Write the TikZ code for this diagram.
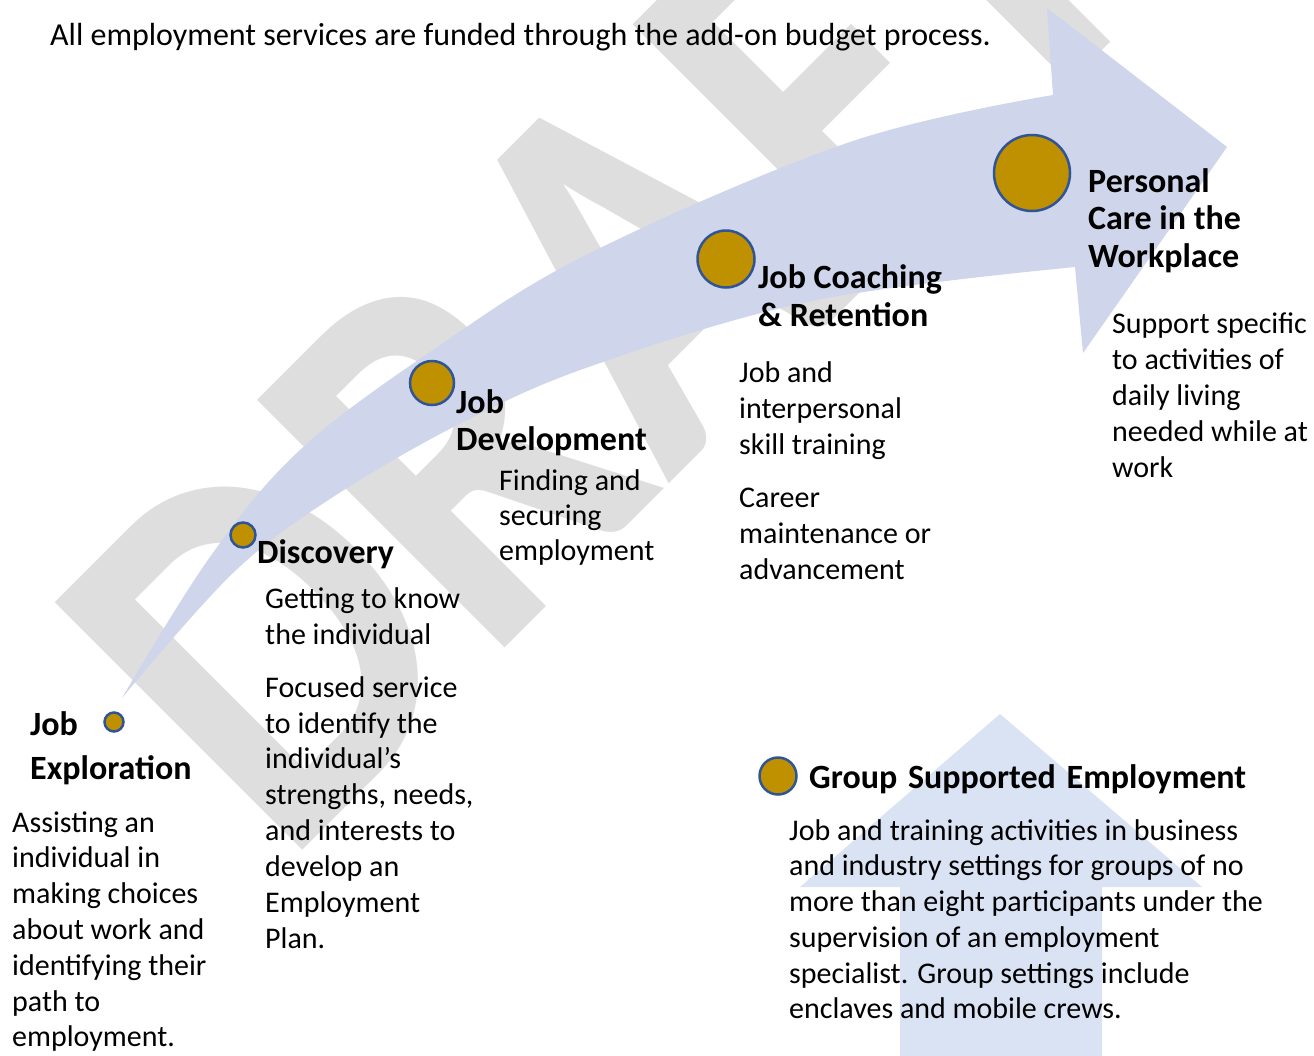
\documentclass[tikz,border=0pt]{standalone}
\usepackage{fontspec}
\setmainfont{Carlito}
\definecolor{wm}{RGB}{222,222,222}
\definecolor{arrowblue}{RGB}{207,213,234}
\definecolor{upblue}{RGB}{218,227,243}
\definecolor{gold}{RGB}{191,144,0}
\definecolor{ring}{RGB}{47,85,151}
\begin{document}
\begin{tikzpicture}[x=1pt,y=-1pt,
  dot/.style={circle, draw=ring, fill=gold, line width=2.5pt, inner sep=0pt},
  body/.style={anchor=north west, inner sep=0pt, align=left},
  head/.style={anchor=north west, inner sep=0pt, align=left}]
\useasboundingbox (0,0) rectangle (1314,1055);
\clip (0,0) rectangle (1314,1055);
\fill[white] (0,0) rectangle (1314,1055);
% watermark
\node[rotate=45, xscale=0.843, anchor=base west, inner sep=0pt, text=wm, font=\bfseries\fontsize{540}{540}\selectfont] (wmark) at (284,869) {DRAFT};
% curved arrow
\fill[arrowblue] (122,698) -- plot[smooth, tension=0.6] coordinates {(122,698) (210,557) (300,450) (433,350) (590,253) (850,142) (1053,95)}
  -- (1047,8) -- (1227,147) -- (1083,353) -- (1075,267)
  -- plot[smooth, tension=0.6] coordinates {(1075,267) (817,300) (600,363) (467,420) (333,497) (233,573) (122,698)} -- cycle;
% up arrow
\fill[upblue] (900,1060) -- (900,887) -- (800,887) -- (1000,714) -- (1202,887) -- (1102,887) -- (1102,1060) -- cycle;
% dots
\node[dot, minimum size=19pt] (ex) at (114,722) {};
\node[dot, minimum size=25pt] (disc) at (243,535) {};
\node[dot, minimum size=44pt] (dev) at (432,383) {};
\node[dot, minimum size=57pt] (coach) at (726,259) {};
\node[dot, minimum size=76pt] (care) at (1032,173) {};
\node[dot, minimum size=37pt] (grp) at (778,776) {};
% texts
\node[body, font=\fontsize{32}{36}\selectfont] (top) at (50,19.8) {\strut All employment services are funded through the add-on budget process.};
\node[head, font=\bfseries\fontsize{34}{44}\selectfont] (exh) at (30,704.2) {\strut Job\\Exploration};
\node[body, font=\fontsize{30}{35.8}\selectfont] (exb) at (12,806.9) {\strut Assisting an\\individual in\\making choices\\about work and\\identifying their\\path to\\employment.};
\node[head, font=\bfseries\fontsize{34}{38}\selectfont] (disch) at (257,536.4) {\strut Discovery};
\node[body, font=\fontsize{30}{36}\selectfont] (discb) at (265,582.8) {\strut Getting to know\\the individual};
\node[body, font=\fontsize{30}{35.85}\selectfont] (discc) at (265,671.9) {\strut Focused service\\to identify the\\individual’s\\strengths, needs,\\and interests to\\develop an\\Employment\\Plan.};
\node[head, font=\bfseries\fontsize{34}{37.5}\selectfont] (devh) at (456,386.75) {\strut Job\\Development};
\node[body, font=\fontsize{30}{35}\selectfont] (devb) at (499,465.5) {\strut Finding and\\securing\\employment};
\node[head, font=\bfseries\fontsize{34}{38.5}\selectfont] (coachh) at (758,261.05) {\strut Job Coaching\\\& Retention};
\node[body, font=\fontsize{30}{36}\selectfont] (coachb) at (739,356.8) {\strut Job and\\interpersonal\\skill training};
\node[body, font=\fontsize{30}{36}\selectfont] (coachc) at (739,481.8) {\strut Career\\maintenance or\\advancement};
\node[head, font=\bfseries\fontsize{34}{37.5}\selectfont] (careh) at (1088,165.75) {\strut Personal\\Care in the\\Workplace};
\node[body, font=\fontsize{30}{36}\selectfont] (careb) at (1112,307.8) {\strut Support specific\\to activities of\\daily living\\needed while at\\work};
\node[head, font=\bfseries\fontsize{34}{38}\selectfont] (grph) at (809,761.4) {\strut Group\ \kern3pt Supported\ \kern3pt Employment};
\node[body, font=\fontsize{30}{35.7}\selectfont] (grpb) at (789,815.0) {\strut Job and training activities in business\\and industry settings for groups of no\\more than eight participants under the\\supervision of an employment\\specialist. Group settings include\\enclaves and mobile crews.};
\end{tikzpicture}
\end{document}
